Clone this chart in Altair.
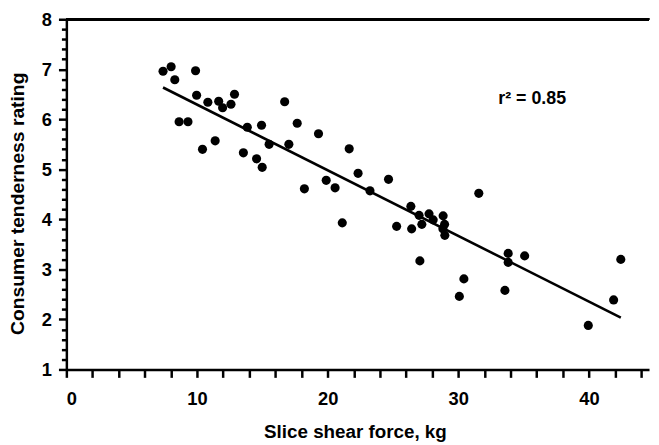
import altair as alt
import pandas as pd

# Slice shear force (kg) and consumer tenderness rating
shear = [7.40, 8.02, 8.30, 9.89, 9.97, 8.63, 9.31, 10.42, 10.83, 11.66,
         11.96, 11.39, 12.60, 12.87, 13.85, 13.55, 14.56, 14.99, 14.94, 15.52,
         16.71, 17.03, 17.67, 18.22, 19.30, 19.89, 20.57, 21.12, 21.65, 22.33,
         23.24, 24.66, 25.28, 26.37, 26.43, 27.00, 27.21, 27.76, 28.08, 28.84,
         28.95, 28.82, 28.97, 31.57, 27.06, 33.82, 33.82, 35.08, 30.43, 30.08,
         33.57, 42.44, 41.89, 39.95]
tender = [6.96, 7.05, 6.79, 6.97, 6.48, 5.95, 5.95, 5.40, 6.34, 6.36,
          6.23, 5.57, 6.30, 6.50, 5.84, 5.33, 5.21, 5.04, 5.88, 5.50,
          6.35, 5.50, 5.92, 4.61, 5.71, 4.78, 4.63, 3.93, 5.41, 4.92,
          4.57, 4.80, 3.86, 4.26, 3.81, 4.08, 3.90, 4.11, 3.99, 4.07,
          3.90, 3.81, 3.68, 4.52, 3.17, 3.32, 3.14, 3.27, 2.81, 2.46,
          2.58, 3.20, 2.39, 1.88]

x_ticks = list(range(0, 45, 2))
y_ticks = [round(1 + 0.2 * i, 1) for i in range(36)]
x_title = "Slice shear force, kg"
y_title = "Consumer tenderness rating"
annotation = ["r\u00b2 = 0.85"]
ann_x = [33.06]
ann_y = [6.41]
y_max = 8

FONT = "Liberation Sans"

df = pd.DataFrame({"shear": shear, "tender": tender})
ann = pd.DataFrame({"x": ann_x, "y": ann_y, "t": annotation})

xscale = alt.Scale(domain=[0, 44.6], nice=False, zero=False)
yscale = alt.Scale(domain=[1, y_max], nice=False, zero=False)

common_axis = dict(
    grid=False, domainColor="black", domainWidth=2.5,
    tickColor="black", tickWidth=2.5, labelColor="black", titleColor="black",
    labelFont=FONT, labelFontWeight="bold", labelFontSize=18.5,
    titleFont=FONT, titleFontWeight="bold", labelOverlap=False,
)

x_axis = alt.Axis(
    values=x_ticks, tickSize=8, labelPadding=12,
    labelExpr="datum.value % 10 === 0 ? format(datum.value, 'd') : ''",
    title=x_title, titleFontSize=19, titleBaseline="alphabetic",
    titleX=291.7, titleY=69, titleAlign="center",
    **common_axis,
)
y_axis = alt.Axis(
    values=y_ticks,
    tickSize={"condition": {"test": "abs(datum.value - round(datum.value)) < 0.01", "value": 8}, "value": 5},
    labelExpr="abs(datum.value - round(datum.value)) < 0.01 ? format(datum.value, 'd') : ''",
    labelPadding=7,
    title=y_title, titleFontSize=19.5, titleBaseline="alphabetic", titleAngle=-90,
    titleX=-43, titleY=186, titleAlign="center",
    **common_axis,
)

x_enc = alt.X("shear:Q", scale=xscale, axis=x_axis)
y_enc = alt.Y("tender:Q", scale=yscale, axis=y_axis)

points = alt.Chart(df).mark_circle(size=85, color="black", opacity=1).encode(
    x=x_enc, y=y_enc,
)

line = alt.Chart(df).transform_regression("shear", "tender").mark_line(
    color="black", strokeWidth=2.6
).encode(x=x_enc, y=y_enc)

text = alt.Chart(ann).mark_text(
    align="left", baseline="middle", font=FONT, fontWeight="bold",
    fontSize=18, color="black"
).encode(
    x=alt.X("x:Q", scale=xscale, axis=x_axis),
    y=alt.Y("y:Q", scale=yscale, axis=y_axis),
    text="t:N",
)

top_frame = alt.Chart(df).mark_rule(color="black", strokeWidth=2.5).encode(
    y=alt.datum(y_max, scale=yscale, axis=y_axis, type="quantitative"),
)

chart = alt.layer(points, line, text, top_frame).properties(
    width=589, height=354,
    padding=0,
    background="white",
).configure_view(stroke=None)

chart.save("out.html", embed_options={"renderer": "svg", "actions": False})
